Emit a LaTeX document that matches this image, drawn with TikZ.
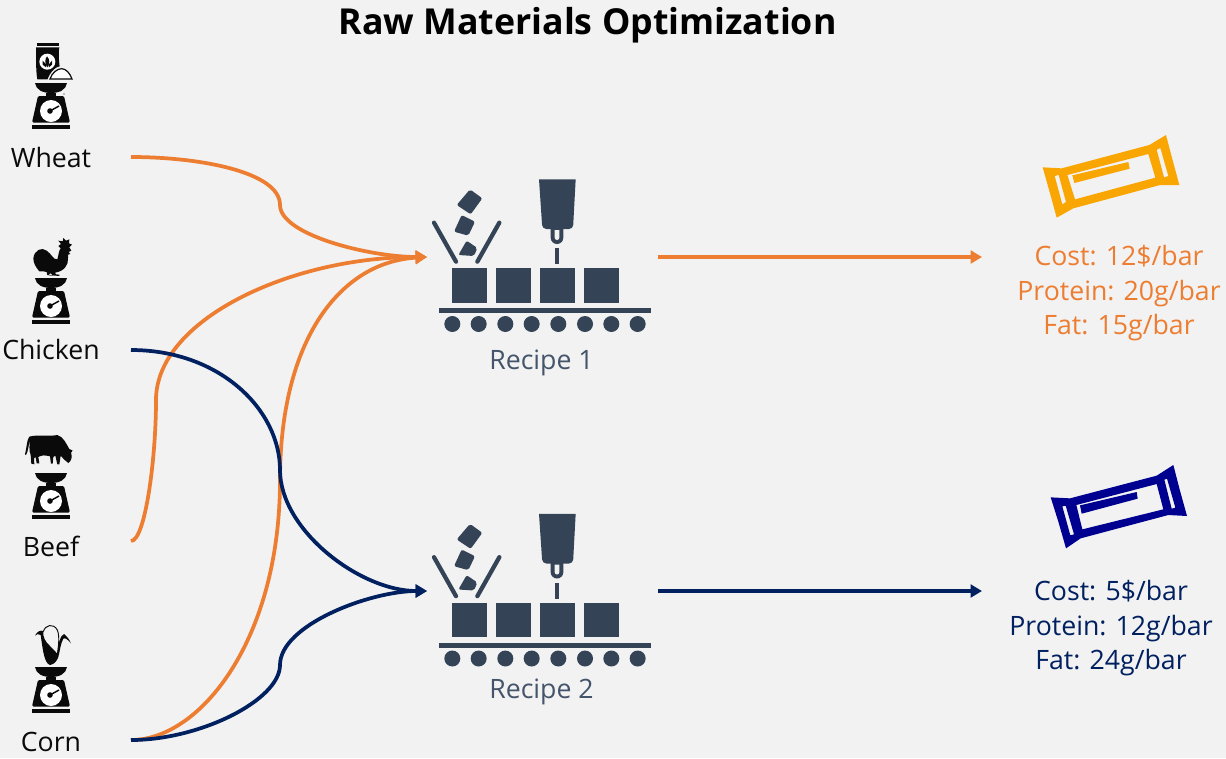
\documentclass[tikz,border=0pt]{standalone}
\usepackage{fontspec}
\setmainfont{Open Sans}
\definecolor{bgc}{HTML}{F2F2F2}
\definecolor{orangec}{HTML}{ED7D31}
\definecolor{navyc}{HTML}{002060}
\definecolor{slatec}{HTML}{344456}
\definecolor{recipec}{HTML}{44546A}
\definecolor{barorange}{HTML}{F9A602}
\definecolor{barblue}{HTML}{000090}
\definecolor{inkc}{HTML}{0A0A0A}
\usetikzlibrary{arrows.meta}
\tikzset{
 lbl/.style={font=\fontsize{20}{24}\selectfont,inner sep=0pt,anchor=base,text=inkc},
 rec/.style={font=\fontsize{20}{24}\selectfont,inner sep=0pt,anchor=base,text=recipec},
 spec/.style={font=\fontsize{20}{26}\selectfont,inner sep=0pt,align=center,anchor=north},
 flow/.style={line width=2.8pt,-{Triangle[length=8.5pt,width=9.5pt]}},
 flowo/.style={flow,orangec},
 flown/.style={flow,navyc},
}
% weighing scale; #1 = y of pan top, centre x 51
\newcommand\kscale[1]{%
 \begin{scope}[shift={(51,#1)}]
  \fill[inkc] (-16,0) -- (16,0) .. controls (15,7) and (8,10) .. (0,10) .. controls (-8,10) and (-15,7) .. (-16,0) -- cycle;
  \fill[inkc] (-5,10) rectangle (5,13);
  \fill[inkc,rounded corners=1pt] (-13,13) -- (13,13) -- (19,39.5) -- (-19,39.5) -- cycle;
  \fill[inkc] (-19,41.5) rectangle (19,46);
  \fill[white] (0,28) circle[radius=11];
  \fill[inkc] (-1,28) circle[radius=2.8];
  \draw[inkc,line width=1.1pt] (-1,28) -- (8,23);
 \end{scope}}
% packaging machine; #1 = y offset
\newcommand\machine[1]{%
 \begin{scope}[shift={(420,#1)},x=.25pt,y=-.25pt]
  \foreach \bx in {95,227,359,491}{\fill[slatec] (\bx,295) rectangle ++(106,103);}
  \fill[slatec] (58,414) rectangle (692,430);
  \foreach \rx in {97,176,256,335,415,495,574,653}{\fill[slatec] (\rx,462) circle[radius=24];}
  \draw[slatec,line width=3.2pt,line cap=round] (42,158) -- (108,275);
  \draw[slatec,line width=3.2pt,line cap=round] (238,158) -- (172,275);
  \fill[slatec,rounded corners=1.5pt] (150,58) -- (187,85) -- (152,133) -- (110,105) -- cycle;
  \fill[slatec,rounded corners=1.5pt] (125,135) -- (165,155) -- (145,197) -- (102,185) -- cycle;
  \fill[slatec,rounded corners=1.5pt] (140,212) -- (172,234) -- (162,258) -- (115,255) -- cycle;
  \fill[slatec] (357,28) -- (467,28) {[rounded corners=3pt] -- (459,177) -- (367,177)} -- cycle;
  \fill[slatec] (392,170) -- (392,203) arc[start angle=180,end angle=0,radius=19] -- (430,170) -- cycle;
  \fill[bgc] (404,180) -- (404,203) arc[start angle=180,end angle=0,radius=7] -- (418,180) -- cycle;
  \fill[slatec] (404,235) rectangle (418,282);
 \end{scope}}
\begin{document}
\begin{tikzpicture}[x=.75pt,y=-.75pt]
\useasboundingbox (0,0) rectangle (1226,758);
\fill[bgc] (0,0) rectangle (1226,758);
\node[font=\fontsize{26.8}{30}\selectfont\bfseries,inner sep=0pt,anchor=base,text=black] (title) at (587.5,34.5) {Raw Materials Optimization};
% scales
\kscale{83}\kscale{278}\kscale{473}\kscale{667}
% wheat bag
\begin{scope}[shift={(0,30)},x=.25pt,y=-.25pt]
 \fill[inkc] (110,38) rectangle (178,47);
 \fill[inkc] (108,52) -- (178,52) .. controls (174,75) and (178,100) .. (180,120) -- (150,148) -- (112,148) .. controls (106,115) and (110,80) .. (108,52) -- cycle;
 \fill[white] (142,95) circle[radius=24];
 \fill[inkc] (141,79) .. controls (150,88) and (150,100) .. (142,112) .. controls (134,100) and (134,88) .. (141,79) -- cycle;
 \fill[inkc] (128,92) -- (140,105) -- (138,112) -- (128,104) -- cycle;
 \fill[inkc] (156,92) -- (145,105) -- (147,112) -- (156,104) -- cycle;
 \fill[bgc] (142,151) .. controls (150,125) and (170,108) .. (185,108) .. controls (200,108) and (217,128) .. (224,151) -- cycle;
 \filldraw[fill=white,draw=inkc,line width=.9pt] (150,147) .. controls (156,128) and (172,116) .. (185,116) .. controls (198,116) and (210,130) .. (216,147) -- cycle;
 \foreach \px/\py in {172,128,182,124,192,130,178,134}{\fill[inkc] (\px,\py) circle[radius=2];}
\end{scope}
% rooster
\begin{scope}[shift={(0,230)},x=.25pt,y=-.25pt]
 \fill[inkc] (100,85) .. controls (103,60) and (125,50) .. (140,62) .. controls (155,72) and (160,90) .. (172,88) .. controls (176,75) and (176,62) .. (182,55) -- (175,48) -- (183,42) -- (175,32) -- (188,34) -- (190,24) -- (198,32) -- (208,28) -- (207,40) -- (216,44) -- (208,52) -- (214,62) -- (206,66) -- (211,72) -- (204,74) -- (204,85) .. controls (206,105) and (192,124) .. (165,128) -- (168,133) -- (178,134) -- (178,138) -- (158,136) -- (152,130) -- (145,133) -- (160,138) -- (142,135) -- (140,126) .. controls (132,125) and (126,122) .. (118,124) .. controls (108,112) and (100,100) .. (100,85) -- cycle;
\end{scope}
% cow
\begin{scope}[shift={(0,425)},x=.25pt,y=-.25pt]
 \fill[inkc] (75,88) .. controls (80,70) and (80,45) .. (88,35) .. controls (110,28) and (150,35) .. (172,30) .. controls (190,35) and (198,55) .. (208,72) -- (218,77) -- (213,83) .. controls (218,95) and (214,108) .. (205,114) .. controls (195,108) and (190,100) .. (182,92) -- (178,118) -- (172,118) -- (166,92) -- (160,96) -- (158,116) -- (153,116) -- (150,94) .. controls (135,90) and (125,90) .. (115,96) -- (118,115) -- (110,115) -- (107,96) -- (102,100) -- (103,118) -- (94,116) -- (92,90) .. controls (85,75) and (90,55) .. (90,45) .. controls (85,60) and (85,80) .. (78,90) -- cycle;
\end{scope}
% corn
\begin{scope}[shift={(0,620)},x=.25pt,y=-.25pt]
 \fill[inkc] (105,47) .. controls (112,33) and (122,30) .. (130,33) .. controls (128,50) and (135,65) .. (150,78) .. controls (162,90) and (172,100) .. (176,108) .. controls (172,120) and (165,133) .. (150,135) .. controls (132,130) and (128,85) .. (122,45) .. controls (115,40) and (110,42) .. (105,47) -- cycle;
 \draw[inkc,line width=.7pt] (130,35) .. controls (135,15) and (160,8) .. (172,30) .. controls (180,50) and (175,80) .. (172,105);
 \fill[inkc] (172,100) .. controls (176,70) and (178,50) .. (192,42) .. controls (200,48) and (208,58) .. (213,70) .. controls (205,60) and (196,52) .. (190,56) .. controls (182,70) and (180,90) .. (176,108) -- cycle;
\end{scope}
% labels
\node[lbl] (wheat) at (51,167) {Wheat};
\node[lbl] (chicken) at (51,359) {Chicken};
\node[lbl] (beef) at (51,556) {Beef};
\node[lbl] (corn) at (51,751) {Corn};
\machine{170}
\machine{504.5}
\node[rec] (rec1) at (541.5,369) {Recipe 1};
\node[rec] (rec2) at (541.5,698) {Recipe 2};
% bars
\begin{scope}[shift={(1030,125)},x=.25pt,y=-.25pt]
 \fill[barorange,even odd rule] (38,127) -- (95,130) -- (358,60) -- (408,30) -- (425,95) -- (448,180) -- (390,180) -- (130,250) -- (80,278) -- (60,205) -- cycle
 (112,150) -- (355,87) -- (376,158) -- (135,223) -- cycle
 (74,153) -- (86,150) -- (108,231) -- (97,238) -- cycle
 (380,74) -- (391,69) -- (415,153) -- (402,157) -- cycle;
 \fill[barorange] (127,151) -- (295,111) -- (299,131) -- (133,174) -- cycle;
\end{scope}
\begin{scope}[shift={(1040,455)},x=.25pt,y=-.25pt]
 \fill[barblue,even odd rule] (32,127) -- (90,130) -- (350,62) -- (400,30) -- (418,100) -- (441,183) -- (385,180) -- (122,250) -- (78,280) -- (55,200) -- cycle
 (109,150) -- (350,87) -- (370,163) -- (127,223) -- cycle
 (67,154) -- (77,152) -- (102,238) -- (91,241) -- cycle
 (373,74) -- (381,71) -- (406,158) -- (395,161) -- cycle;
 \fill[barblue] (120,151) -- (290,111) -- (293,131) -- (125,176) -- cycle;
\end{scope}
\node[spec,text=orangec] (spec1) at (1119,245) {Cost: 12\$/bar\\Protein: 20g/bar\\Fat: 15g/bar};
\node[spec,text=navyc] (spec2) at (1111,580) {Cost: 5\$/bar\\Protein: 12g/bar\\Fat: 24g/bar};
% connector anchors
\coordinate (wheatout) at (131,157);
\coordinate (chickenout) at (131,350);
\coordinate (beefout) at (131,541);
\coordinate (cornout) at (131,740);
\coordinate (m1in) at (427,257);
\coordinate (m2in) at (427,591);
\coordinate (m1out) at (658,257);
\coordinate (m2out) at (658,591);
\coordinate (p1in) at (982,257);
\coordinate (p2in) at (982,591);
% connectors
\draw[flowo] (wheatout) .. controls (200,157) and (280,172) .. (280,205) .. controls (280,235) and (370,257) .. (m1in);
\draw[flowo] (beefout) .. controls (145,541) and (156,460) .. (156,400) .. controls (156,320) and (290,257) .. (m1in);
\draw[flowo] (cornout) .. controls (200,740) and (280,640) .. (280,480) .. controls (280,340) and (340,262) .. (m1in);
\draw[flown] (chickenout) .. controls (220,350) and (280,410) .. (280,470) .. controls (280,530) and (360,591) .. (m2in);
\draw[flown] (cornout) .. controls (200,740) and (280,700) .. (280,665) .. controls (280,625) and (370,591) .. (m2in);
\draw[flowo] (m1out) -- (p1in);
\draw[flown] (m2out) -- (p2in);
\end{tikzpicture}
\end{document}
